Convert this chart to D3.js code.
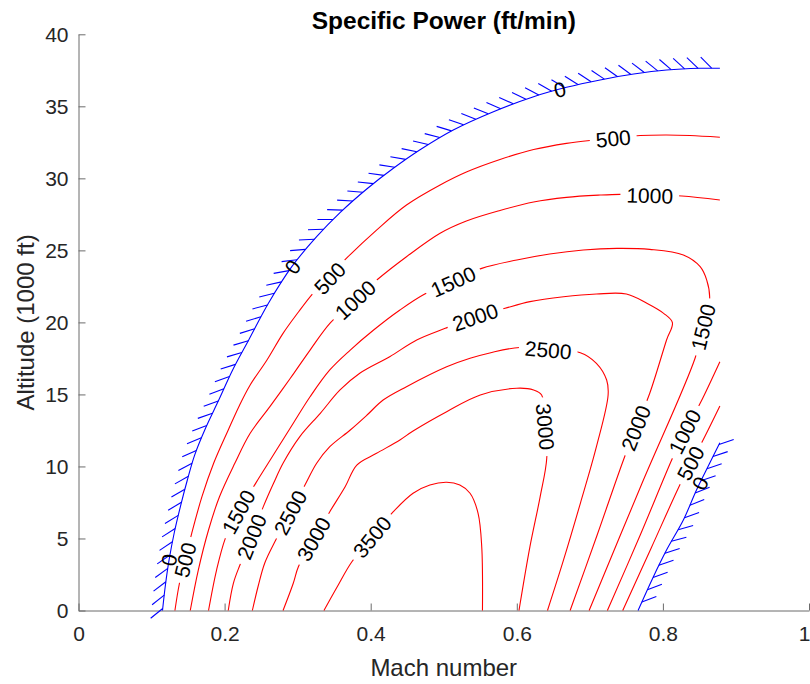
<!DOCTYPE html>
<html>
<head>
<meta charset="utf-8">
<script src="https://cdn.jsdelivr.net/npm/d3@7"></script>
<style>
  body { margin: 0; background: #fff; }
  svg { display: block; font-family: "Liberation Sans", Arial, Helvetica, sans-serif; }
</style>
</head>
<body>
<svg id="chart" width="810" height="684"></svg>
<script>
const machTicks = [0, 0.2, 0.4, 0.6, 0.8, 1];
const altTicks = [0, 5, 10, 15, 20, 25, 30, 35, 40];

// contour lines as [Mach, altitude (1000 ft)]
// Ps = 0 boundary (blue, hatched on the infeasible side)
const ps0Upper = [[0.115,0],[0.119,1.77],[0.124,3.51],[0.131,5.38],[0.140,7.32],[0.149,9.06],[0.159,10.79],[0.174,12.67],[0.192,14.61],[0.211,16.70],[0.233,18.78],[0.260,21.33],[0.292,23.87],[0.326,25.95],[0.358,27.62],[0.395,29.28],[0.431,30.70],[0.467,31.97],[0.513,33.36],[0.568,34.63],[0.623,35.67],[0.668,36.32],[0.714,36.83],[0.760,37.24],[0.805,37.52],[0.851,37.64],[0.878,37.64]];
const ps0Lower = [[0.878,11.65],[0.864,10.22],[0.846,8.37],[0.828,6.28],[0.805,4.20],[0.787,2.35],[0.766,0]];

const ps500Upper = [[0.132,0],[0.138,1.84],[0.146,3.51],[0.155,5.36],[0.169,7.90],[0.185,10.22],[0.205,12.53],[0.220,14.20],[0.235,15.65],[0.258,17.39],[0.280,19.24],[0.300,20.65],[0.321,22.02],[0.344,23.22],[0.369,24.56],[0.408,26.41],[0.449,28.15],[0.495,29.54],[0.531,30.44],[0.577,31.31],[0.623,32.00],[0.668,32.43],[0.700,32.63],[0.732,32.77],[0.769,32.97],[0.805,33.01],[0.837,32.97],[0.878,32.85]];
const ps500Lower = [[0.878,14.20],[0.855,11.84],[0.838,10.22],[0.822,8.59],[0.784,4.34],[0.745,0]];

const ps1000Upper = [[0.153,0],[0.164,2.81],[0.178,5.59],[0.193,7.90],[0.214,10.22],[0.235,12.30],[0.262,14.15],[0.290,16.12],[0.317,18.08],[0.345,19.98],[0.379,21.56],[0.410,23.01],[0.449,24.56],[0.495,26.19],[0.531,27.04],[0.577,27.77],[0.623,28.36],[0.668,28.68],[0.714,28.84],[0.741,28.89],[0.782,28.84],[0.826,28.77],[0.878,28.50]];
const ps1000Lower = [[0.878,17.27],[0.851,14.38],[0.830,12.41],[0.812,10.45],[0.769,5.24],[0.724,0]];

const ps1500 = [[0.178,0],[0.189,2.81],[0.201,5.01],[0.219,6.98],[0.237,8.37],[0.248,9.29],[0.271,11.14],[0.294,13.00],[0.317,14.84],[0.344,16.70],[0.372,18.08],[0.404,19.47],[0.440,20.86],[0.474,21.97],[0.513,22.83],[0.552,23.75],[0.600,24.33],[0.645,24.75],[0.691,25.03],[0.737,25.14],[0.782,25.07],[0.828,24.68],[0.851,23.87],[0.860,22.94],[0.864,21.67],[0.855,19.68],[0.844,17.51],[0.771,8.78],[0.699,0]];

const ps2000 = [[0.205,0],[0.212,1.89],[0.221,3.16],[0.237,5.12],[0.253,7.21],[0.267,8.83],[0.280,10.22],[0.303,12.07],[0.331,13.69],[0.358,15.31],[0.385,16.47],[0.426,17.62],[0.463,18.78],[0.502,19.59],[0.543,20.37],[0.584,20.98],[0.618,21.44],[0.664,21.78],[0.709,21.97],[0.750,21.97],[0.778,21.33],[0.801,20.63],[0.813,19.98],[0.805,18.78],[0.782,15.08],[0.763,12.67],[0.746,10.45],[0.710,5.24],[0.673,0]];

const ps2500 = [[0.238,0],[0.246,1.70],[0.255,3.30],[0.270,4.89],[0.290,6.80],[0.310,8.71],[0.326,10.22],[0.344,11.37],[0.372,12.53],[0.395,13.57],[0.417,14.61],[0.449,15.54],[0.504,16.92],[0.536,17.51],[0.563,17.88],[0.604,18.26],[0.643,18.08],[0.687,17.90],[0.709,17.16],[0.723,16.00],[0.725,14.96],[0.709,11.37],[0.687,7.44],[0.664,3.51],[0.642,0]];

const ps3000 = [[0.280,0],[0.294,1.89],[0.301,3.04],[0.322,4.96],[0.344,6.86],[0.365,8.59],[0.381,10.10],[0.408,10.91],[0.440,11.84],[0.458,12.46],[0.504,13.80],[0.550,14.96],[0.600,15.43],[0.623,15.31],[0.634,14.96],[0.639,12.76],[0.641,10.57],[0.632,7.90],[0.618,4.43],[0.603,0]];

const ps3500 = [[0.336,0],[0.354,1.63],[0.374,3.37],[0.402,5.10],[0.431,6.86],[0.458,8.14],[0.481,8.71],[0.504,8.90],[0.522,8.71],[0.536,8.14],[0.547,6.75],[0.552,4.43],[0.553,0]];

// inline label spots [Mach, altitude]
const labels0 = [[0.659,36.17],[0.293,23.85],[0.124,3.51],[0.851,8.83]];
const labels500 = [[0.732,32.77],[0.344,23.06],[0.146,3.51],[0.838,10.22]];
const labels1000 = [[0.782,28.81],[0.379,21.56],[0.830,12.41]];
const labels1500 = [[0.513,22.83],[0.219,6.84],[0.855,19.68]];
const labels2000 = [[0.543,20.37],[0.237,5.12],[0.763,12.67]];
const labels2500 = [[0.643,18.08],[0.290,6.80]];
const labels3000 = [[0.639,12.76],[0.322,4.96]];
const labels3500 = [[0.402,5.10]];

const levels = [
  {value: 0, lines: [ps0Upper, ps0Lower], labels: labels0},
  {value: 500, lines: [ps500Upper, ps500Lower], labels: labels500},
  {value: 1000, lines: [ps1000Upper, ps1000Lower], labels: labels1000},
  {value: 1500, lines: [ps1500], labels: labels1500},
  {value: 2000, lines: [ps2000], labels: labels2000},
  {value: 2500, lines: [ps2500], labels: labels2500},
  {value: 3000, lines: [ps3000], labels: labels3000},
  {value: 3500, lines: [ps3500], labels: labels3500}
];

const x = d3.scaleLinear().domain([0, 1]).range([78.5, 809]);
const y = d3.scaleLinear().domain([0, 40]).range([610.5, 34.3]);

const svg = d3.select('#chart');
const defs = svg.append('defs');
const axisColor = '#6b6b6b';
const textColor = '#262626';

const line = d3.line()
  .x(d => x(d[0]))
  .y(d => y(d[1]))
  .curve(d3.curveCatmullRom.alpha(0.5));

// axes (box off, ticks inside)
const xAxis = d3.axisBottom(x)
  .tickValues(machTicks)
  .tickFormat(d => (d === 0 || d === 1) ? String(d) : d.toFixed(1))
  .tickSizeInner(-7)
  .tickSizeOuter(0)
  .tickPadding(16);
const yAxis = d3.axisLeft(y)
  .tickValues(altTicks)
  .tickSizeInner(-7)
  .tickSizeOuter(0)
  .tickPadding(10);

const gx = svg.append('g')
  .attr('transform', `translate(0,${y(0)})`)
  .call(xAxis);
const gy = svg.append('g')
  .attr('transform', `translate(${x(0)},0)`)
  .call(yAxis);
for (const g of [gx, gy]) {
  g.attr('font-family', null).attr('font-size', null);
  g.selectAll('path.domain, .tick line').attr('stroke', axisColor).attr('stroke-width', 1);
  g.selectAll('.tick text').attr('fill', textColor).style('font-size', '21px');
}
// last x label sits on the page edge: keep it inside
gx.selectAll('.tick text').filter(d => d === 1).attr('text-anchor', 'end').attr('x', 1);

svg.append('text')
  .attr('x', (x(0) + x(1)) / 2)
  .attr('y', 29)
  .attr('text-anchor', 'middle')
  .style('font-size', '24.5px')
  .style('font-weight', 'bold')
  .attr('fill', '#000')
  .text('Specific Power (ft/min)');

svg.append('text')
  .attr('x', (x(0) + x(1)) / 2)
  .attr('y', 676)
  .attr('text-anchor', 'middle')
  .style('font-size', '24px')
  .attr('fill', textColor)
  .text('Mach number');

svg.append('text')
  .attr('transform', `translate(34,${(y(0) + y(40)) / 2}) rotate(-90)`)
  .attr('text-anchor', 'middle')
  .style('font-size', '24px')
  .attr('fill', textColor)
  .text('Altitude (1000 ft)');

const toScreen = p => [x(p[0]), y(p[1])];

// label follows the local direction of its contour, kept upright
const labelAngle = (lines, pt) => {
  const [px, py] = toScreen(pt);
  let best = null;
  for (const ln of lines) {
    const s = ln.map(toScreen);
    s.forEach((q, i) => {
      const dd = (q[0] - px) ** 2 + (q[1] - py) ** 2;
      if (!best || dd < best.dd) best = {dd, s, i};
    });
  }
  const {s, i} = best;
  const a = s[Math.max(i - 1, 0)];
  const b = s[Math.min(i + 1, s.length - 1)];
  let deg = Math.atan2(b[1] - a[1], b[0] - a[0]) * 180 / Math.PI;
  if (deg > 90) deg -= 180;
  if (deg <= -90) deg += 180;
  return deg;
};

const lineLayer = svg.append('g');
const hatchLayer = svg.append('g');
const labelLayer = svg.append('g');

for (const level of levels) {
  const placed = level.labels.map(pt => {
    const [cx, cy] = toScreen(pt);
    const angle = labelAngle(level.lines, pt);
    const t = labelLayer.append('text')
      .attr('transform', `translate(${cx},${cy}) rotate(${angle})`)
      .attr('text-anchor', 'middle')
      .attr('dy', '0.36em')
      .style('font-size', '21px')
      .attr('fill', '#000')
      .text(level.value);
    return {cx, cy, angle, w: t.node().getComputedTextLength()};
  });

  if (level.value === 0) {
    level.lines.forEach(ln => {
      const path = lineLayer.append('path')
        .attr('d', line(ln))
        .attr('fill', 'none')
        .attr('stroke', '#0000ff')
        .attr('stroke-width', 1.1);
      const node = path.node();
      const total = node.getTotalLength();
      const phi = -135 * Math.PI / 180;
      const len = 15.5;
      const marks = [];
      for (let s = 2; s <= total; s += 13.5) {
        const p = node.getPointAtLength(s);
        const q = node.getPointAtLength(Math.min(s + 0.5, total));
        const r = node.getPointAtLength(Math.max(s - 0.5, 0));
        const n = Math.hypot(q.x - r.x, q.y - r.y);
        const tx = (q.x - r.x) / n, ty = (q.y - r.y) / n;
        const hx = tx * Math.cos(phi) - ty * Math.sin(phi);
        const hy = tx * Math.sin(phi) + ty * Math.cos(phi);
        marks.push([p.x, p.y, p.x + hx * len, p.y + hy * len]);
      }
      hatchLayer.selectAll(null)
        .data(marks)
        .enter()
        .append('line')
        .attr('x1', d => d[0]).attr('y1', d => d[1])
        .attr('x2', d => d[2]).attr('y2', d => d[3])
        .attr('stroke', '#0000ff')
        .attr('stroke-width', 1.1);
    });
  } else {
    const id = `gap-${level.value}`;
    const mask = defs.append('mask')
      .attr('id', id)
      .attr('maskUnits', 'userSpaceOnUse')
      .attr('x', 0).attr('y', 0).attr('width', 810).attr('height', 684);
    mask.append('rect').attr('width', 810).attr('height', 684).attr('fill', '#fff');
    const pad = 6, h = 17;
    placed.forEach(({cx, cy, angle, w}) => {
      mask.append('rect')
        .attr('x', -w / 2 - pad).attr('y', -h / 2)
        .attr('width', w + 2 * pad).attr('height', h)
        .attr('transform', `translate(${cx},${cy}) rotate(${angle})`)
        .attr('fill', '#000');
    });
    const g = lineLayer.append('g').attr('mask', `url(#${id})`);
    level.lines.forEach(ln => {
      g.append('path')
        .attr('d', line(ln))
        .attr('fill', 'none')
        .attr('stroke', '#ff0000')
        .attr('stroke-width', 1.1);
    });
  }
}
</script>
</body>
</html>
